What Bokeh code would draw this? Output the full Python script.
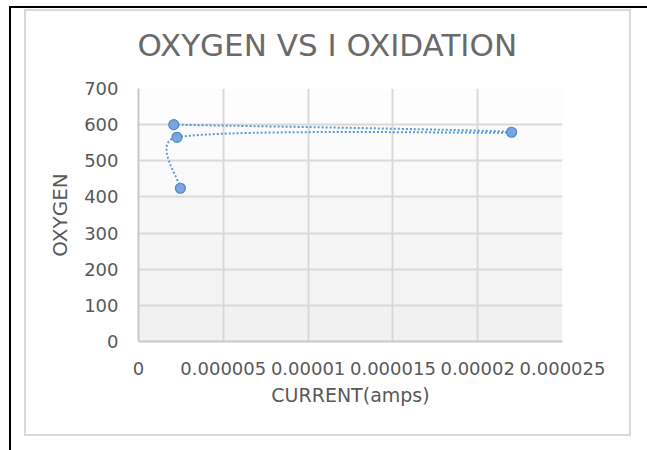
import numpy as np
from bokeh.plotting import figure
from bokeh.layouts import column
from bokeh.models import Range1d, FixedTicker, BoxAnnotation
from bokeh.embed import file_html
from bokeh.resources import INLINE

# ---- data ----
current = [2.47e-6, 2.27e-6, 2.2e-5, 2.08e-6]
oxygen = [424, 565, 579, 600]
x_ticks = [0, 5e-6, 1e-5, 1.5e-5, 2e-5, 2.5e-5]
x_tick_labels = ["0", "0.000005", "0.00001", "0.000015", "0.00002", "0.000025"]
y_ticks = [0, 100, 200, 300, 400, 500, 600, 700]
title_text = "OXYGEN VS I OXIDATION"
x_label = "CURRENT(amps)"
y_label = "OXYGEN"

# ---- layout ----
FW, FH = 424, 253
XMAX, YMAX = x_ticks[-1], y_ticks[-1]
LIFT = 9                      # figure (transparent border) overlaps the grey border top
BL, BT = 112, 77 + LIFT
W, H = 603, 423 + LIFT
BR, BB = W - BL - FW, H - BT - FH
FONT = "DejaVu Sans"
TXT = "#595959"


def excel_smooth(xs, ys):
    """Excel-style smoothed line as cubic Bezier segments (computed in pixel space)."""
    P = np.column_stack([np.array(xs) / XMAX * FW, np.array(ys) / YMAX * FH])
    n = len(P)
    segs = []
    for i in range(n - 1):
        p0 = P[i - 1] if i > 0 else P[i]
        p1, p2 = P[i], P[i + 1]
        p3 = P[i + 2] if i + 2 < n else P[i + 1]
        d = np.linalg.norm(p2 - p1)
        arms = []
        for a in ((p2 - p0) / 6.0, (p3 - p1) / 6.0):
            la = np.linalg.norm(a)
            if la > d / 2 and la > 0:
                a = a * (d / 2) / la
            arms.append(a)
        segs.append((p1, p2, p1 + arms[0], p2 - arms[1]))
    to_x = lambda v: float(v / FW * XMAX)
    to_y = lambda v: float(v / FH * YMAX)
    out = dict(x0=[], y0=[], x1=[], y1=[], cx0=[], cy0=[], cx1=[], cy1=[])
    for p1, p2, c1, c2 in segs:
        out["x0"].append(to_x(p1[0])); out["y0"].append(to_y(p1[1]))
        out["x1"].append(to_x(p2[0])); out["y1"].append(to_y(p2[1]))
        out["cx0"].append(to_x(c1[0])); out["cy0"].append(to_y(c1[1]))
        out["cx1"].append(to_x(c2[0])); out["cy1"].append(to_y(c2[1]))
    return out


p = figure(width=W, height=H,
           x_range=Range1d(0, XMAX), y_range=Range1d(0, YMAX),
           min_border_left=BL, min_border_right=BR,
           min_border_top=BT, min_border_bottom=BB,
           output_backend="svg", toolbar_location=None,
           background_fill_color="#ffffff", border_fill_color=None,
           styles={"margin-top": f"-{LIFT}px"})
p.outline_line_color = None

# title
p.title.text = title_text
p.title.align = "left"
p.title.offset = -1
p.title.vertical_align = "top"
p.title.standoff = 47
p.title.text_font = FONT
p.title.text_font_size = "31px"
p.title.text_font_style = "normal"
p.title.text_color = "#6a6a6a"

# subtle vertical gradient of the plot area
band_cols = ["#f1f1f1", "#f3f3f3", "#f5f5f5", "#f7f7f7", "#f9f9f9", "#fbfbfb", "#fdfdfd"]
for lo, hi, c in zip(y_ticks[:-1], y_ticks[1:], band_cols):
    p.add_layout(BoxAnnotation(bottom=lo, top=hi, fill_color=c, fill_alpha=1,
                               line_color=None, level="image"))

# axes
for ax in (p.xaxis[0], p.yaxis[0]):
    ax.major_tick_line_color = None
    ax.minor_tick_line_color = None
    ax.axis_line_color = "#c8c8c8"
    ax.axis_line_width = 2
    ax.major_label_text_font = FONT
    ax.major_label_text_font_size = "18px"
    ax.major_label_text_color = TXT
    ax.axis_label_text_font = FONT
    ax.axis_label_text_font_size = "19px"
    ax.axis_label_text_font_style = "normal"
    ax.axis_label_text_color = TXT

p.xaxis.ticker = FixedTicker(ticks=x_ticks)
p.xaxis.major_label_overrides = {t: s for t, s in zip(x_ticks, x_tick_labels)}
p.xaxis.major_label_standoff = 14
p.xaxis.axis_label = x_label
p.xaxis.axis_label_standoff = 6

p.yaxis.ticker = FixedTicker(ticks=y_ticks)
p.yaxis.major_label_standoff = 14
p.yaxis.axis_label = y_label
p.yaxis.axis_label_text_font_size = "20px"
p.yaxis.axis_label_standoff = 9

p.grid.grid_line_color = "#d9d9d9"
p.grid.grid_line_width = 2
p.xgrid.ticker = FixedTicker(ticks=x_ticks)
p.ygrid.ticker = FixedTicker(ticks=y_ticks)

# smoothed dotted line + markers
b = excel_smooth(current, oxygen)
p.bezier(x0=b["x0"], y0=b["y0"], x1=b["x1"], y1=b["y1"],
         cx0=b["cx0"], cy0=b["cy0"], cx1=b["cx1"], cy1=b["cy1"],
         line_color="#5b9bd5", line_width=2, line_dash="2 2")
p.scatter(current, oxygen, size=10, fill_color="#79a6dc",
          line_color="#4f86c8", line_width=1.2)

# chart-area border (grey) inside the black top/left rules
inner = column(p, styles={"border": "2px solid #d9d9d9",
                          "margin-left": "13px", "margin-top": "1px"})
page = column(inner, styles={"border-top": "2px solid black",
                             "border-left": "2px solid black",
                             "margin-left": "9px", "margin-top": "6px",
                             "min-width": "638px", "min-height": "444px"})

open("out.html", "w").write(file_html(page, INLINE))
